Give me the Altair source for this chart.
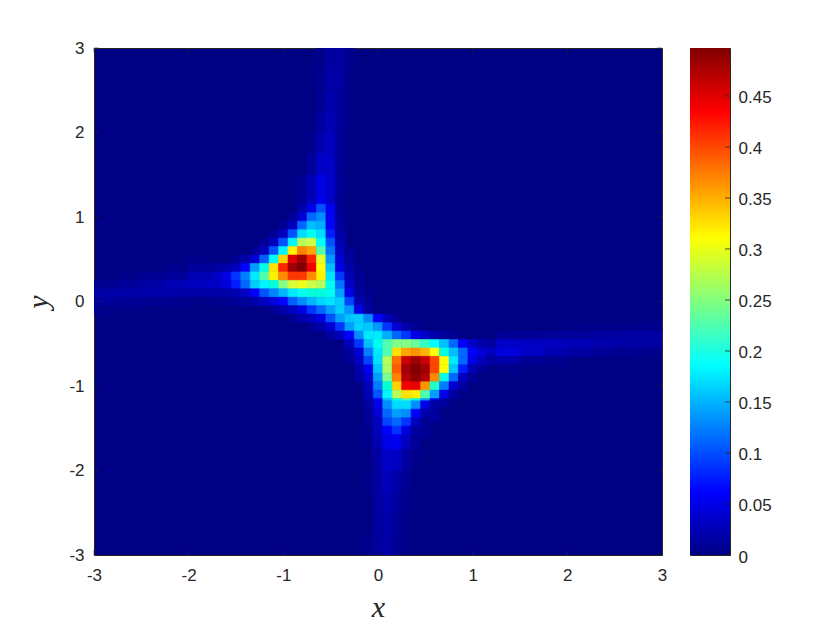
import altair as alt
import pandas as pd

# Heat values in thousandths. Anything not listed is the 0 background.
# Core block: 0.1 x 0.1 cells as (y centre, first x centre, values going right)
CORE = [
    (1.2, -0.8, [10, 30, 55, 35, 8]),
    (1.1, -0.8, [20, 50, 80, 55, 12]),
    (1.0, -0.9, [10, 40, 90, 110, 55, 15]),
    (0.9, -1.0, [10, 30, 90, 140, 130, 60, 15]),
    (0.8, -1.1, [10, 30, 80, 160, 200, 160, 65, 20]),
    (0.7, -1.2, [10, 30, 80, 180, 280, 290, 190, 80, 25]),
    (0.6, -1.3, [10, 30, 80, 180, 320, 390, 370, 240, 95, 30, 10]),
    (0.5, -1.5, [10, 20, 40, 85, 190, 340, 450, 480, 430, 300, 115, 40, 12]),
    (0.4, -1.7, [15, 20, 30, 60, 120, 205, 330, 430, 480, 497, 440, 310, 140, 50, 20, 5]),
    (0.3, -1.7, [35, 50, 70, 100, 170, 240, 320, 385, 425, 425, 385, 320, 165, 70, 25, 10]),
    (0.2, -1.7, [35, 45, 65, 90, 150, 180, 215, 260, 295, 305, 290, 280, 200, 95, 35, 10]),
    (0.1, -1.7, [20, 20, 25, 35, 60, 80, 105, 135, 170, 200, 215, 215, 200, 120, 50, 15, 5]),
    (0.0, -1.7, [5, 8, 10, 12, 20, 30, 45, 60, 85, 110, 135, 155, 165, 150, 75, 25, 10]),
    (-0.1, -1.1, [10, 20, 30, 50, 70, 90, 120, 150, 115, 50, 15]),
    (-0.2, -0.9, [10, 20, 30, 50, 80, 120, 145, 150, 110, 60, 30, 10]),
    (-0.3, -0.7, [10, 20, 40, 70, 120, 155, 145, 115, 70, 40, 20, 10]),
    (-0.4, -0.5, [15, 30, 60, 110, 170, 170, 130, 90, 70, 50, 35, 20, 12, 8]),
    (-0.5, -0.3, [30, 70, 140, 200, 240, 260, 260, 250, 230, 190, 140, 90, 60, 35, 20, 15]),
    (-0.6, -0.3, [15, 40, 100, 170, 240, 330, 370, 380, 360, 310, 210, 140, 90, 60, 40, 30]),
    (-0.7, -0.3, [10, 30, 75, 165, 280, 400, 460, 480, 460, 420, 310, 170, 90, 50, 30, 15]),
    (-0.8, -0.2, [20, 55, 145, 275, 410, 480, 497, 480, 420, 310, 145, 65, 25, 10]),
    (-0.9, -0.2, [15, 40, 120, 255, 390, 470, 490, 470, 385, 205, 90, 30, 10]),
    (-1.0, -0.1, [30, 100, 220, 340, 440, 445, 380, 225, 100, 40, 15]),
    (-1.1, -0.1, [25, 80, 180, 280, 330, 320, 240, 120, 50, 15]),
    (-1.2, -0.1, [20, 60, 140, 210, 240, 200, 120, 50, 15]),
    (-1.3, -0.1, [15, 50, 110, 160, 160, 110, 50, 15]),
    (-1.4, -0.1, [10, 40, 90, 120, 110, 60, 20]),
    (-1.5, 0.0, [30, 75, 90, 70, 30, 10]),
    (-1.6, -0.1, [5, 30, 60, 70, 45, 15]),
    (-1.7, 0.0, [25, 50, 55, 30, 10]),
]
# Vertical arms: 0.1 wide, 0.25 tall cells as (y centre, first x centre, values going right)
UP_ARM = [
    (2.875, -0.6, [5, 15, 17, 6]),
    (2.625, -0.6, [7, 18, 17, 5]),
    (2.375, -0.6, [10, 21, 15, 4]),
    (2.125, -0.6, [15, 25, 13, 3]),
    (1.875, -0.7, [6, 24, 30, 12]),
    (1.625, -0.7, [12, 35, 35, 10]),
    (1.375, -0.8, [8, 25, 50, 38, 10]),
]
DOWN_ARM = [
    (-1.875, 0.0, [18, 36, 34, 16, 4]),
    (-2.125, -0.1, [4, 16, 28, 20, 8]),
    (-2.375, 0.0, [15, 24, 16, 5]),
    (-2.625, 0.0, [15, 20, 12, 3]),
    (-2.875, -0.1, [5, 13, 18, 10, 3]),
]
# Horizontal arms: 0.25 wide, 0.1 tall cells as (x centre, top y centre, values going down)
LEFT_ARM = [
    (-2.875, 0.2, [7, 18, 13, 4]),
    (-2.625, 0.3, [4, 12, 20, 10, 3]),
    (-2.375, 0.3, [9, 18, 22, 8]),
    (-2.125, 0.4, [5, 13, 25, 20, 6]),
    (-1.875, 0.5, [5, 12, 25, 32, 18, 4]),
]
RIGHT_ARM = [
    (1.375, -0.4, [10, 35, 45, 20, 5]),
    (1.625, -0.4, [10, 33, 35, 10]),
    (1.875, -0.4, [12, 30, 24, 6]),
    (2.125, -0.3, [3, 13, 26, 16]),
    (2.375, -0.3, [4, 15, 22, 10]),
    (2.625, -0.3, [5, 17, 19, 7]),
    (2.875, -0.3, [6, 17, 16, 5]),
]
X_TICKS = [-3, -2, -1, 0, 1, 2, 3]
Y_TICKS = [-3, -2, -1, 0, 1, 2, 3]
BAR_TICKS = [0, 0.05, 0.1, 0.15, 0.2, 0.25, 0.3, 0.35, 0.4, 0.45]
Z_MAX = 0.497
JET_POS = [0, 0.125, 0.375, 0.625, 0.875, 1]
JET_COL = ["#000084", "#0000ff", "#00ffff", "#ffff00", "#ff0000", "#800000"]
INK = "#262626"
SANS = "Liberation Sans"
SERIF = "Liberation Serif"

cells = []
for yc, x0, vals in CORE + UP_ARM + DOWN_ARM:
    h = 0.05 if abs(yc) < 1.25 else 0.125
    for i, v in enumerate(vals):
        xc = x0 + i * 0.1
        cells.append(dict(x=xc - 0.05, x2=xc + 0.05, y=yc - h, y2=yc + h, z=v / 1000))
for xc, y0, vals in LEFT_ARM + RIGHT_ARM:
    for i, v in enumerate(vals):
        yc = y0 - i * 0.1
        cells.append(dict(x=xc - 0.125, x2=xc + 0.125, y=yc - 0.05, y2=yc + 0.05, z=v / 1000))
df = pd.DataFrame(cells)

W, H = 568, 507
BW = 40
TICK = 5
num_label = "'' + datum.value"
color_scale = alt.Scale(domain=[p * Z_MAX for p in JET_POS], range=JET_COL)
xs = alt.Scale(domain=[-3, 3], nice=False)
ys = alt.Scale(domain=[-3, 3], nice=False)

x_axis = alt.Axis(
    values=X_TICKS, title="x", grid=False, domain=False, tickSize=0, labelPadding=12,
    labelFlush=False, labelOverlap=False,
    labelExpr=num_label, labelFont=SANS, labelFontSize=17, labelColor=INK,
    titleFont=SERIF, titleFontStyle="italic", titleFontWeight="normal",
    titleFontSize=30, titleColor=INK, titlePadding=9)
y_axis = alt.Axis(
    values=Y_TICKS, title="y", grid=False, domain=False, tickSize=0, labelPadding=10,
    labelFlush=False, labelOverlap=False,
    labelExpr=num_label, labelFont=SANS, labelFontSize=17, labelColor=INK,
    titleFont=SERIF, titleFontStyle="italic", titleFontWeight="normal",
    titleFontSize=30, titleColor=INK, titlePadding=15)

heat = alt.Chart(df).mark_rect(strokeWidth=0.6, clip=True).encode(
    x=alt.X("x:Q", scale=xs, axis=x_axis),
    x2="x2:Q",
    y=alt.Y("y:Q", scale=ys, axis=y_axis),
    y2="y2:Q",
    color=alt.Color("z:Q", scale=color_scale, legend=None),
    stroke=alt.Stroke("z:Q", scale=color_scale, legend=None),
)

xt = pd.DataFrame({"t": X_TICKS})
yt = pd.DataFrame({"t": Y_TICKS})
tick_style = dict(color=INK, strokeWidth=0.7, opacity=0.8)
tb = alt.Chart(xt).mark_rule(**tick_style).encode(
    x=alt.X("t:Q", scale=xs, axis=x_axis), y=alt.value(H), y2=alt.value(H - TICK))
tt = alt.Chart(xt).mark_rule(**tick_style).encode(
    x=alt.X("t:Q", scale=xs, axis=x_axis), y=alt.value(0), y2=alt.value(TICK))
tl = alt.Chart(yt).mark_rule(**tick_style).encode(
    y=alt.Y("t:Q", scale=ys, axis=y_axis), x=alt.value(0), x2=alt.value(TICK))
tr = alt.Chart(yt).mark_rule(**tick_style).encode(
    y=alt.Y("t:Q", scale=ys, axis=y_axis), x=alt.value(W), x2=alt.value(W - TICK))
main = alt.layer(heat, tb, tt, tl, tr).properties(width=W, height=H)

bar_scale = alt.Scale(domain=[0, Z_MAX], nice=False)
bar_axis = alt.Axis(
    orient="right", values=BAR_TICKS, title=None, grid=False, domain=False, tickSize=0,
    labelPadding=8, labelFlush=False, labelOverlap=False, labelOffset=2,
    labelExpr=num_label, labelFont=SANS, labelFontSize=17, labelColor=INK)
gradient = alt.LinearGradient(
    gradient="linear", x1=0, x2=0, y1=1, y2=0,
    stops=[alt.GradientStop(color=c, offset=p) for p, c in zip(JET_POS, JET_COL)],
)
bar = alt.Chart(pd.DataFrame({"a": [0], "b": [Z_MAX]})).mark_rect(color=gradient).encode(
    x=alt.value(0), x2=alt.value(BW),
    y=alt.Y("a:Q", scale=bar_scale, axis=bar_axis),
    y2="b:Q",
)
bar_ticks = alt.Chart(pd.DataFrame({"t": BAR_TICKS})).mark_rule(color=INK, strokeWidth=0.8).encode(
    y=alt.Y("t:Q", scale=bar_scale, axis=bar_axis), x=alt.value(BW - 5), x2=alt.value(BW))
colorbar = alt.layer(bar, bar_ticks).properties(width=BW, height=H)

chart = (
    alt.hconcat(main, colorbar, spacing=21)
    .resolve_scale(color="independent", y="independent", x="independent")
    .properties(padding={"left": 15, "top": 30, "right": 5, "bottom": 5}, background="white")
    .configure_view(fill="#000084", stroke=INK, strokeWidth=1)
)
chart.save("out.html", embed_options={"renderer": "svg", "actions": False})
